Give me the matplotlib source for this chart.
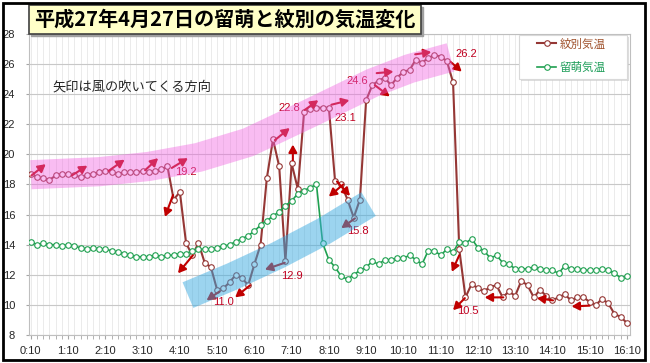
import numpy as np
import matplotlib
matplotlib.use('Agg')
from matplotlib import pyplot as plt
from matplotlib.patches import Rectangle

plt.rcParams['font.family'] = ['Liberation Sans', 'Noto Sans CJK JP']

# 10分毎の観測時刻 (0:10 - 16:10)
times = ['%d:%02d' % (m // 60, m % 60) for m in range(10, 16 * 60 + 11, 10)]
hour_labels = ['0:10', '1:10', '2:10', '3:10', '4:10', '5:10', '6:10', '7:10', '8:10',
               '9:10', '10:10', '11:10', '12:10', '13:10', '14:10', '15:10', '16:10']

monbetsu = [18.7, 18.5, 18.4, 18.3, 18.6, 18.7, 18.7, 18.6, 18.5, 18.6, 18.7, 18.8,
            18.9, 18.8, 18.7, 18.8, 18.8, 18.8, 18.9, 18.8, 18.9, 19.0, 19.2, 17.0,
            17.5, 14.1, 13.3, 14.1, 12.8, 12.5, 11.0, 11.1, 11.5, 12.0, 11.8, 11.3,
            12.7, 14.0, 18.4, 21.0, 19.2, 12.9, 19.4, 17.7, 22.8, 23.0, 23.1, 23.1,
            23.1, 18.2, 18.0, 17.0, 15.8, 17.0, 23.6, 24.6, 24.9, 25.1, 24.6, 25.1,
            25.5, 25.6, 26.3, 26.1, 26.4, 26.6, 26.5, 26.2, 24.8, 13.7, 10.5, 11.4,
            11.1, 10.9, 11.2, 11.3, 10.5, 10.9, 10.6, 11.6, 11.3, 10.5, 11.0, 10.6,
            10.3, 10.5, 10.7, 10.3, 10.5, 10.5, 10.2, 10.0, 10.4, 10.1, 9.4, 9.2, 8.8]

rumoi = [14.2, 14.0, 14.1, 14.0, 14.0, 13.9, 14.0, 13.9, 13.8, 13.7, 13.8, 13.7,
         13.7, 13.6, 13.5, 13.4, 13.3, 13.2, 13.2, 13.2, 13.3, 13.2, 13.3, 13.3,
         13.4, 13.4, 13.6, 13.7, 13.7, 13.7, 13.8, 13.9, 14.0, 14.2, 14.4, 14.6,
         14.9, 15.3, 15.6, 15.9, 16.2, 16.6, 16.9, 17.4, 17.6, 17.8, 18.0, 14.1,
         13.0, 12.5, 11.9, 11.7, 12.0, 12.3, 12.5, 12.9, 12.7, 13.0, 13.0, 13.1,
         13.1, 13.3, 13.0, 12.7, 13.6, 13.6, 13.3, 13.7, 13.5, 14.2, 14.1, 14.4,
         13.8, 13.6, 13.1, 13.3, 12.8, 12.7, 12.4, 12.4, 12.4, 12.5, 12.4, 12.3,
         12.3, 12.1, 12.6, 12.4, 12.4, 12.3, 12.3, 12.3, 12.4, 12.3, 12.1, 11.8, 11.9]

# 注記した気温
note_text = ['19.2', '11.0', '12.9', '22.8', '23.1', '15.8', '24.6', '26.2', '10.5']
note_xy = [(25.0, 18.8), (31.1, 10.2), (42.1, 11.9), (41.6, 23.1), (50.6, 22.45),
           (52.6, 14.9), (52.6, 24.9), (70.2, 26.7), (70.4, 9.6)]

# 風向の矢印 (根元, 先端)
arrows = [((0.1, 18.6), (2.4, 19.35)), ((6.6, 18.6), (9.1, 19.25)),
          ((12.5, 18.9), (15.1, 19.65)), ((18.4, 18.95), (20.5, 19.75)),
          ((22.7, 19.1), (25.3, 19.75)), ((22.9, 17.3), (21.6, 15.85)),
          ((26.1, 13.3), (23.7, 12.1)), ((30.4, 10.9), (28.3, 10.3)),
          ((35.3, 11.3), (32.9, 10.5)), ((40.9, 12.8), (37.7, 12.35)),
          ((39.3, 20.95), (41.7, 21.75)), ((42.2, 19.6), (42.2, 20.65)),
          ((44.1, 22.95), (46.3, 23.6)), ((48.4, 23.3), (51.3, 23.6)),
          ((50.3, 18.0), (48.0, 17.2)), ((49.3, 18.2), (51.4, 17.25)),
          ((52.2, 15.75), (50.0, 15.1)), ((55.7, 25.4), (58.4, 25.5)),
          ((55.4, 24.6), (57.8, 23.85)), ((61.9, 26.65), (64.5, 26.8)),
          ((67.6, 26.15), (69.4, 25.5)), ((69.0, 13.3), (67.8, 12.2)),
          ((69.9, 10.45), (68.0, 9.65)), ((76.1, 10.5), (73.1, 10.5)),
          ((84.1, 10.3), (81.5, 10.45)), ((90.0, 9.95), (87.1, 9.9))]

# 帯 (中心線)
pink_band = [(0, 18.65), (11, 18.85), (19, 19.2), (27, 19.8), (35, 20.8),
             (45, 22.75), (55, 24.75), (61, 25.7), (67.6, 26.45)]
blue_band = [(25.3, 10.65), (32.5, 11.9), (39.8, 13.3), (47.2, 14.9), (54.4, 16.7)]

c_mon = '#953735'
c_rum = '#1FA050'

fig = plt.figure(figsize=(6.5, 3.63), dpi=100)
ax = fig.add_axes([29 / 650, 28 / 363, 601 / 650, 301 / 363])

x = np.arange(len(times))
l1, = ax.plot(x, monbetsu, color=c_mon, lw=1.5, marker='o', ms=4, mfc='white', mec=c_mon,
              mew=0.8, label='紋別気温', zorder=3)
l2, = ax.plot(x, rumoi, color=c_rum, lw=1.2, marker='o', ms=4, mfc='white', mec=c_rum,
              mew=0.8, label='留萌気温', zorder=3)

for (t, h) in arrows:
    ax.annotate('', xy=h, xytext=t, zorder=4,
                arrowprops=dict(arrowstyle='-|>,head_length=0.45,head_width=0.25',
                                color='#C00000', lw=1.5, shrinkA=0, shrinkB=0,
                                mutation_scale=10))

for (tx, ty), s in zip(note_xy, note_text):
    ax.text(tx, ty, s, fontsize=8, color='#C00020', ha='center', va='center', zorder=4)

px, py = zip(*pink_band)
ax.plot(px, py, color='#F161E1', alpha=0.42, lw=21, solid_capstyle='butt',
        solid_joinstyle='round', zorder=6)
bx, by = zip(*blue_band)
ax.plot(bx, by, color='#3BABE1', alpha=0.5, lw=20, solid_capstyle='butt',
        solid_joinstyle='round', zorder=6)

ax.text(3.5, 24.5, '矢印は風の吹いてくる方向', fontsize=9.5, color='#262626',
        ha='left', va='center', family=['Noto Sans CJK JP'])

ax.set_xlim(-0.3, 96.5)
ax.set_ylim(8, 28)
ax.set_yticks(range(8, 29, 2))
ax.set_xticks(range(0, 97, 6))
ax.set_xticklabels(hour_labels)
ax.set_xticks(x, minor=True)
ax.grid(axis='y', color='#C8C8C8', lw=0.8)
ax.grid(axis='x', which='both', color='#E8E8E8', lw=0.6)
ax.set_axisbelow(True)
ax.tick_params(axis='x', which='both', length=3, color='#A6A6A6', labelsize=8,
               pad=5, labelcolor='#262626')
ax.tick_params(axis='y', length=2, color='#A6A6A6', labelsize=8, pad=8,
               labelcolor='#262626')
for sp in ax.spines.values():
    sp.set_color('#BFBFBF')

# 凡例 (枠は別に描く)
ax.add_patch(Rectangle((0.818, 0.845), 0.18, 0.146, transform=ax.transAxes,
                       fc='#C8C8C8', ec='none', alpha=0.6, zorder=7))
ax.add_patch(Rectangle((0.815, 0.850), 0.18, 0.146, transform=ax.transAxes,
                       fc='white', ec='#D9D9D9', lw=0.8, zorder=7))
leg = ax.legend(handles=[l1, l2], loc='upper left', bbox_to_anchor=(0.845, 0.985),
                fontsize=8.3, frameon=False, borderpad=0, labelspacing=1.0,
                handlelength=1.7, handletextpad=0.3, borderaxespad=0)
leg.set_zorder(8)
leg.get_texts()[0].set_color('#A0522D')
leg.get_texts()[1].set_color('#1E9E5A')

# タイトルの枠
fig.patches.append(Rectangle((31 / 650, 1 - 36 / 363), 392 / 650, 29 / 363,
                             transform=fig.transFigure, color='#A0A0A0', zorder=8))
fig.patches.append(Rectangle((29 / 650, 1 - 34 / 363), 392 / 650, 29 / 363,
                             transform=fig.transFigure, fc='#FFFFC8', ec='#404040',
                             lw=1.2, zorder=9))
fig.text(225 / 650, 1 - 19.5 / 363, '平成27年4月27日の留萌と紋別の気温変化',
         fontsize=14.5, fontweight='bold', ha='center', va='center', zorder=10,
         family=['Noto Sans CJK JP'])

# 外枠
fig.patches.append(Rectangle((3 / 650, 3 / 363), 642 / 650, 357 / 363,
                             transform=fig.transFigure, fill=False, ec='black', lw=2,
                             zorder=10))

fig.savefig('out.png', dpi=100)
